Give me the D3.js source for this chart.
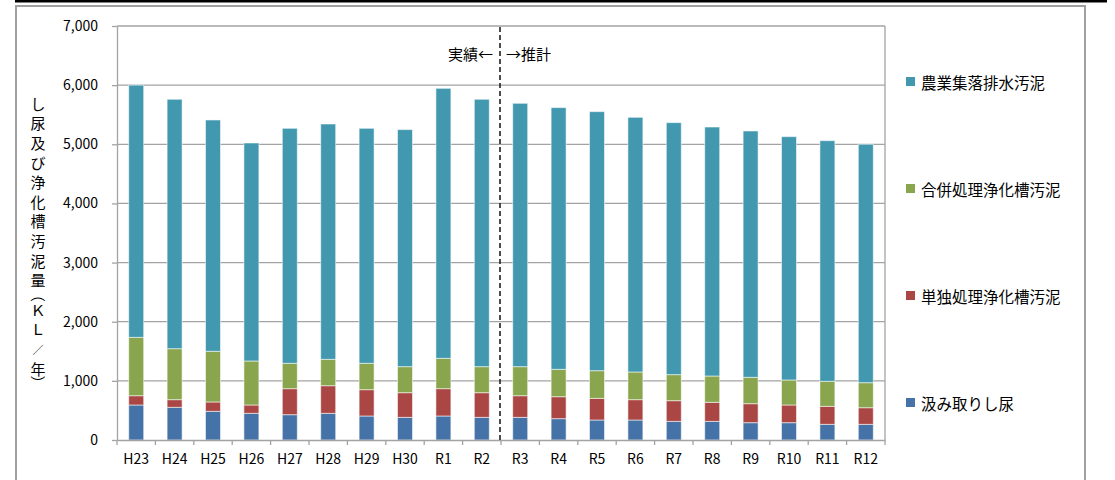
<!DOCTYPE html>
<html lang="ja">
<head>
<meta charset="utf-8">
<script src="https://cdn.jsdelivr.net/npm/d3@7"></script>
<style>
  html, body { margin: 0; padding: 0; background: #fff; }
  svg { display: block; font-family: "Noto Sans CJK JP", "Noto Sans", sans-serif; }
</style>
</head>
<body>
<svg id="chart" width="1115" height="480"></svg>
<script>
// 年度
const years = ["H23","H24","H25","H26","H27","H28","H29","H30","R1","R2",
               "R3","R4","R5","R6","R7","R8","R9","R10","R11","R12"];

// 汲み取りし尿 (KL/年)
const kumitori = [592,553,485,451,428,451,406,383,406,383,383,361,338,338,315,315,293,293,265,265];
// 単独処理浄化槽汚泥
const tandoku  = [157,129,158,141,440,467,445,417,462,417,366,371,366,344,350,322,321,299,304,281];
// 合併処理浄化槽汚泥
const gappei   = [987,862,857,744,429,446,446,440,513,440,491,463,468,468,440,445,446,423,423,423];
// 農業集落排水汚泥
const nouson   = [4264,4217,3911,3686,3973,3979,3973,4008,4565,4521,4453,4425,4380,4306,4261,4210,4165,4114,4069,4031];

const seriesNames  = ["汲み取りし尿","単独処理浄化槽汚泥","合併処理浄化槽汚泥","農業集落排水汚泥"];
const seriesColors = ["#4572A7","#AA4643","#89A54E","#4198AF"];
const yTicks = [0,1000,2000,3000,4000,5000,6000,7000];
const yTitle = ["し","尿","及","び","浄","化","槽","汚","泥","量","（","Ｋ","Ｌ","／","年","）"];
const lastActual = "R2";

const rows = years.map((y, i) => ({
  year: y,
  [seriesNames[0]]: kumitori[i],
  [seriesNames[1]]: tandoku[i],
  [seriesNames[2]]: gappei[i],
  [seriesNames[3]]: nouson[i]
}));

const svg = d3.select("#chart");
const plot = { left: 117, right: 885, top: 26, bottom: 440 };

// outer frame
svg.append("rect").attr("x", 16).attr("y", 6).attr("width", 1069).attr("height", 490)
  .attr("fill", "none").attr("stroke", "#a0a0a0").attr("stroke-width", 2);
svg.append("rect").attr("x", 15).attr("y", 0).attr("width", 1092).attr("height", 2.5).attr("fill", "#000");

const x = d3.scaleBand().domain(years).range([plot.left, plot.right]).paddingInner(0.61).paddingOuter(0.305);
const y = d3.scaleLinear().domain([0, 7000]).range([plot.bottom, plot.top]);

// horizontal gridlines
svg.append("g").selectAll("line").data(yTicks.filter(t => t > 0)).join("line")
  .attr("x1", plot.left).attr("x2", plot.right)
  .attr("y1", d => y(d)).attr("y2", d => y(d))
  .attr("stroke", "#a3a3a3").attr("stroke-width", 1.3);

// right border of plot area
svg.append("line").attr("x1", plot.right).attr("x2", plot.right)
  .attr("y1", y(7000)).attr("y2", y(0)).attr("stroke", "#a3a3a3").attr("stroke-width", 1.3);

// stacked bars
const stack = d3.stack().keys(seriesNames)(rows);
svg.append("g").selectAll("g").data(stack).join("g")
  .attr("fill", (d, i) => seriesColors[i])
  .selectAll("rect").data(d => d).join("rect")
  .attr("x", d => x(d.data.year))
  .attr("width", x.bandwidth())
  .attr("y", d => y(d[1]))
  .attr("height", d => y(d[0]) - y(d[1]))
  .attr("stroke", "rgba(255,255,255,0.55)")
  .attr("stroke-width", 1);

// y axis
const yAxis = svg.append("g").attr("transform", `translate(${plot.left},0)`)
  .call(d3.axisLeft(y).tickValues(yTicks).tickFormat(d3.format(",")).tickSizeInner(5).tickSizeOuter(0).tickPadding(14));
yAxis.select(".domain").attr("stroke", "#a3a3a3").attr("stroke-width", 1.3);
yAxis.selectAll(".tick line").attr("stroke", "#a3a3a3").attr("stroke-width", 1.3);
yAxis.selectAll(".tick text").attr("font-size", 14).attr("fill", "#000")
  .attr("font-family", "'Noto Sans CJK JP', sans-serif");

// x axis with ticks on band boundaries
const xAxis = svg.append("g").attr("transform", `translate(0,${plot.bottom})`)
  .call(d3.axisBottom(x).tickSize(0).tickPadding(14));
xAxis.select(".domain").attr("stroke", "#a3a3a3").attr("stroke-width", 1.3);
xAxis.selectAll(".tick text").attr("font-size", 14).attr("fill", "#000")
  .attr("font-family", "'Noto Sans CJK JP', sans-serif");
const step = x.step();
const boundaries = d3.range(years.length + 1).map(i => plot.left + i * step);
xAxis.append("g").selectAll("line").data(boundaries).join("line")
  .attr("x1", d => d).attr("x2", d => d).attr("y1", 0).attr("y2", 5)
  .attr("stroke", "#a3a3a3").attr("stroke-width", 1.3);

// actual / projected divider
const i0 = years.indexOf(lastActual);
const divX = (x(years[i0]) + x(years[i0 + 1]) + x.bandwidth()) / 2 - 1;
svg.append("line").attr("x1", divX).attr("x2", divX).attr("y1", y(7000) + 1).attr("y2", y(0))
  .attr("stroke", "#222").attr("stroke-width", 1.6).attr("stroke-dasharray", "5,3");
svg.append("text").attr("x", divX - 7).attr("y", 60).attr("text-anchor", "end")
  .attr("font-size", 15).attr("fill", "#000").text("実績←");
svg.append("text").attr("x", divX + 6).attr("y", 60).attr("text-anchor", "start")
  .attr("font-size", 15).attr("fill", "#000").text("→推計");

// vertical y-axis title
const titleG = svg.append("g").attr("font-size", 15).attr("fill", "#000").attr("text-anchor", "middle");
let cursor = 93.5;
yTitle.forEach(ch => {
  const paren = ch === "（" || ch === "）";
  const h = paren ? 10 : 19.6;
  const cy = cursor + h / 2;
  const t = titleG.append("text").attr("dominant-baseline", "central").text(ch);
  if (paren) t.attr("transform", `translate(38,${cy}) rotate(90)`);
  else t.attr("x", 38).attr("y", cy);
  if (ch === "／") t.attr("font-size", 11);
  cursor += h;
});

// legend (top series first)
const legendOrder = d3.range(seriesNames.length).reverse();
const legend = svg.append("g").selectAll("g").data(legendOrder).join("g")
  .attr("transform", (d, i) => `translate(906,${81.5 + i * 107})`);
legend.append("rect").attr("x", 0).attr("y", -4.5).attr("width", 9).attr("height", 9)
  .attr("fill", d => seriesColors[d]);
legend.append("text").attr("x", 15).attr("y", 0).attr("dominant-baseline", "central")
  .attr("font-size", 15.5).attr("fill", "#000").text(d => seriesNames[d]);
</script>
</body>
</html>
